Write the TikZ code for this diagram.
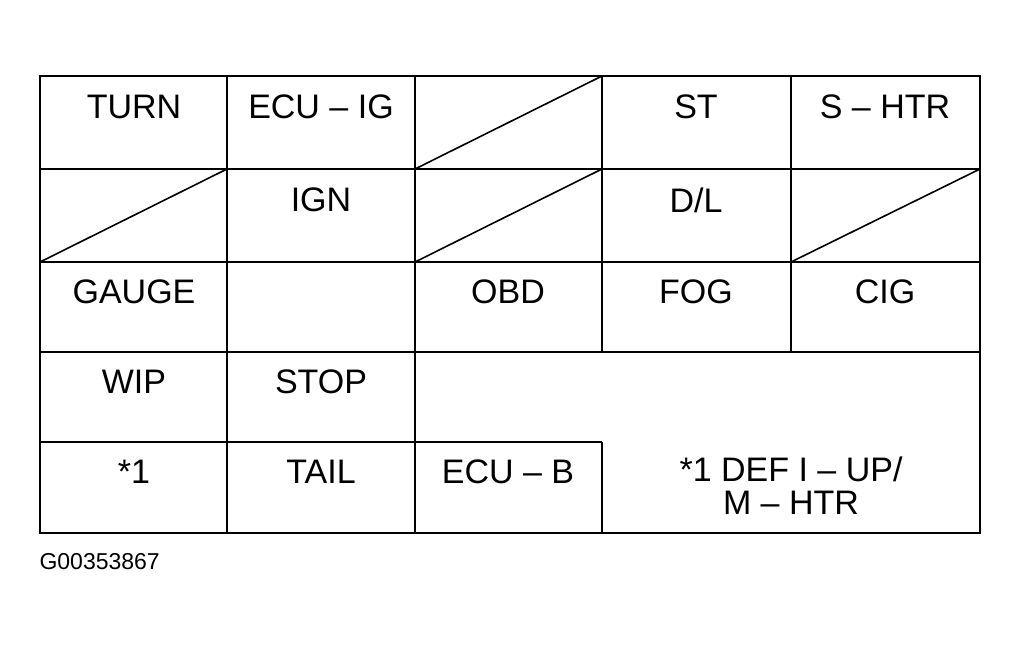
\documentclass[tikz,border=0pt]{standalone}
\usepackage{fontspec}
\setmainfont{Liberation Sans}
\begin{document}
\begin{tikzpicture}[x=1pt,y=-1pt,
  cell/.style={font=\fontsize{34}{33}\selectfont, align=center},
  grid/.style={line width=1.6pt}]
\useasboundingbox (0,0) rectangle (1020,646);
% outline and lines
\draw[grid] (40,76) rectangle (980,533);
\draw[grid] (40,169) -- (980,169);
\draw[grid] (40,262) -- (980,262);
\draw[grid] (40,352) -- (980,352);
\draw[grid] (40,442) -- (602,442);
\draw[grid] (227,76) -- (227,533);
\draw[grid] (415,76) -- (415,533);
\draw[grid] (602,76) -- (602,352);
\draw[grid] (602,442) -- (602,533);
\draw[grid] (791,76) -- (791,352);
% empty slots
\draw[grid] (415,169) -- (602,76);
\draw[grid] (40,262) -- (227,169);
\draw[grid] (415,262) -- (602,169);
\draw[grid] (791,262) -- (980,169);
% labels
\node[cell] (turn) at (134,107) {TURN};
\node[cell] (ecuig) at (321,107) {ECU -- IG};
\node[cell] (st) at (696,107) {ST};
\node[cell] (shtr) at (885,107) {S -- HTR};
\node[cell] (ign) at (321,200) {IGN};
\node[cell] (dl) at (696,200) {D/L};
\node[cell] (gauge) at (134,292) {GAUGE};
\node[cell] (obd) at (508,292) {OBD};
\node[cell] (fog) at (696,292) {FOG};
\node[cell] (cig) at (885,292) {CIG};
\node[cell] (wip) at (134,382) {WIP};
\node[cell] (stop) at (321,382) {STOP};
\node[cell] (one) at (134,472) {*1};
\node[cell] (tail) at (321,472) {TAIL};
\node[cell] (ecub) at (508,472) {ECU -- B};
\node[cell] (def) at (791,486) {*1 DEF I -- UP/\\M -- HTR};
\node[font=\fontsize{23}{25}\selectfont, anchor=west] (code) at (36,562) {G00353867};
\end{tikzpicture}
\end{document}
